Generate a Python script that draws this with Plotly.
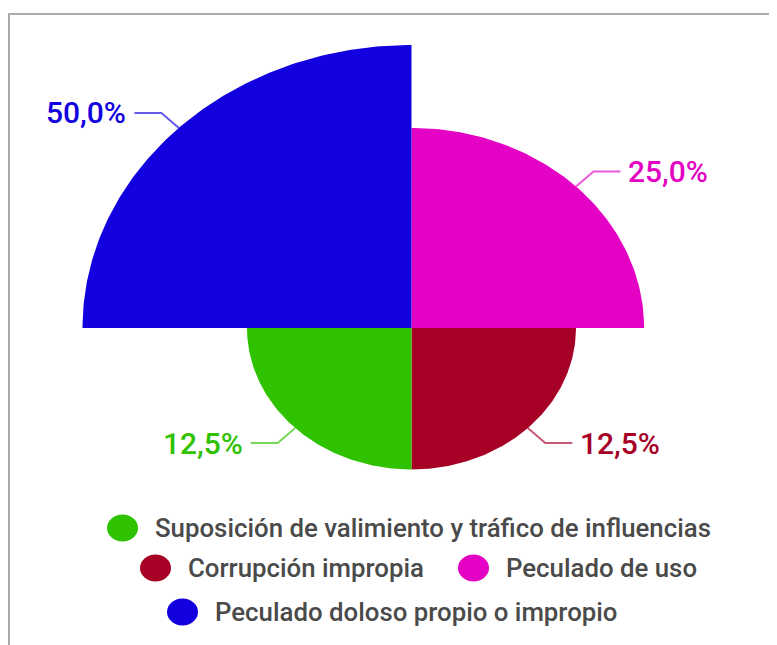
import numpy as np
import plotly.graph_objects as go

# ---- data (clockwise from 12 o'clock) ----
categories = [
    "Peculado de uso",
    "Corrupción impropia",
    "Suposición de valimiento y tráfico de influencias",
    "Peculado doloso propio o impropio",
]
values = [25.0, 12.5, 12.5, 50.0]
colors = ["#E402C4", "#A60027", "#2FC200", "#1201DE"]
line_colors = ["rgba(228,2,196,0.65)", "rgba(166,0,39,0.65)", "rgba(47,194,0,0.65)", "rgba(18,1,222,0.65)"]
value_labels = [f"{v:.1f}%".replace(".", ",") for v in values]

W, H = 777, 645
OFF = 8.0  # page body margin
cx_px, cy_px = 411.5 - OFF, 328.0 - OFF
ux, uy = 329.0, 283.0  # pixels per unit radius

fig = go.Figure()

n = len(values)
vmax = max(values)
span = 360.0 / n
annotations = []
for i, (cat, v) in enumerate(zip(categories, values)):
    r = np.sqrt(v / vmax)
    a0 = 90 - span * i
    a1 = 90 - span * (i + 1)
    th = np.radians(np.linspace(a0, a1, 120))
    xs = np.concatenate([[0], r * np.cos(th), [0]])
    ys = np.concatenate([[0], r * np.sin(th), [0]])
    fig.add_trace(go.Scatter(x=xs, y=ys, fill="toself", fillcolor=colors[i],
                             mode="lines", line=dict(width=0, color=colors[i]),
                             name=cat, hoverinfo="name", showlegend=False))
    # leader line
    mid = np.radians((a0 + a1) / 2)
    cx, cy = np.cos(mid), np.sin(mid)
    p0 = (r * cx, r * cy)
    p1 = ((r + 0.075) * cx, (r + 0.075) * cy)
    side = 1 if cx > 0 else -1
    p2 = (p1[0] + side * 27 / ux, p1[1])
    fig.add_trace(go.Scatter(x=[p0[0], p1[0], p2[0]], y=[p0[1], p1[1], p2[1]],
                             mode="lines", line=dict(color=line_colors[i], width=2),
                             hoverinfo="skip", showlegend=False))
    annotations.append(dict(x=p2[0], y=p2[1], xref="x", yref="y",
                            text=value_labels[i], showarrow=False,
                            xanchor="left" if side > 0 else "right",
                            xshift=6 * side, yanchor="middle",
                            font=dict(family="Roboto", size=30, weight=500, color=colors[i])))

# ---- legend (manual, centered rows) ----
legend_pos = {2: (122.5, 528), 1: (155.5, 568), 0: (473.5, 568), 3: (182.5, 612)}
shapes = []
for idx, (mx, my) in legend_pos.items():
    px_x = (mx - OFF) / W
    px_y = 1 - (my - OFF) / H
    shapes.append(dict(type="circle", xref="paper", yref="paper",
                       xsizemode="pixel", ysizemode="pixel",
                       xanchor=px_x, yanchor=px_y,
                       x0=-15.5, x1=15.5, y0=-13.5, y1=13.5,
                       fillcolor=colors[idx], line=dict(width=0)))
    annotations.append(dict(x=(mx - OFF + 30.5) / W, y=px_y, xref="paper", yref="paper",
                            text=categories[idx], showarrow=False,
                            xanchor="left", yanchor="middle",
                            font=dict(family="Roboto", size=25.8, weight=500, color="#4a4a4a")))

# frame lines
ytop = 1 - (14 - OFF) / H
shapes.append(dict(type="line", xref="paper", yref="paper",
                   x0=0, x1=1, y0=ytop, y1=ytop,
                   line=dict(color="#aaaaaa", width=2)))
shapes.append(dict(type="line", xref="paper", yref="paper",
                   x0=1 / W, x1=1 / W, y0=0, y1=ytop,
                   line=dict(color="#aaaaaa", width=2)))

fig.update_layout(
    width=W, height=H,
    margin=dict(l=0, r=0, t=0, b=0),
    paper_bgcolor="white", plot_bgcolor="white",
    xaxis=dict(range=[-cx_px / ux, (W - cx_px) / ux], visible=False, fixedrange=True),
    yaxis=dict(range=[-(H - cy_px) / uy, cy_px / uy], visible=False, fixedrange=True),
    shapes=shapes,
    annotations=annotations,
    showlegend=False,
)

fig.write_html("out.html")
